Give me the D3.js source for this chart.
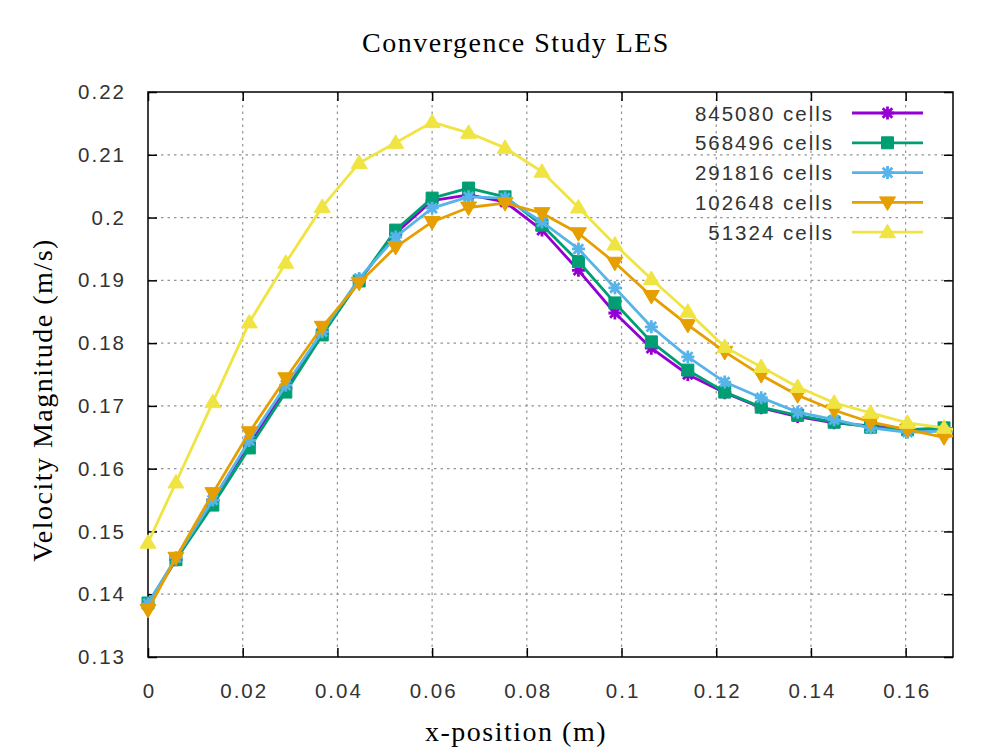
<!DOCTYPE html>
<html>
<head>
<meta charset="utf-8">
<script src="https://cdn.jsdelivr.net/npm/d3@7"></script>
<style>
  body { margin: 0; background: #fff; }
  .tick-label { font-family: "Liberation Sans", Arial, sans-serif; font-size: 20.5px; letter-spacing: 2px; fill: #333; }
  .serif { font-family: "Liberation Serif", "Times New Roman", serif; font-size: 28px; letter-spacing: 1.5px; fill: #000; }
</style>
</head>
<body>
<div id="chart"></div>
<script>
// x positions along the line (m)
var xPos = [0, 0.0059, 0.0137, 0.0214, 0.0291, 0.0368, 0.0446, 0.0523, 0.0600, 0.0677, 0.0754, 0.0832,
            0.0909, 0.0986, 0.1063, 0.1140, 0.1218, 0.1295, 0.1372, 0.1449, 0.1526, 0.1604, 0.1681, 0.1758];

// velocity magnitude (m/s) per mesh
var cells845080 = [0.1383, 0.1455, 0.1550, 0.1640, 0.1728, 0.1815, 0.1900, 0.1975, 0.2027, 0.2036, 0.2025, 0.1980,
                   0.1916, 0.1848, 0.1792, 0.1750, 0.1721, 0.1697, 0.1683, 0.1673, 0.1668, 0.1663, 0.1660, 0.1658];
var cells568496 = [0.1386, 0.1455, 0.1542, 0.1633, 0.1722, 0.1813, 0.1899, 0.1980, 0.2031, 0.2047, 0.2033, 0.1988,
                   0.1930, 0.1864, 0.1802, 0.1757, 0.1722, 0.1698, 0.1685, 0.1674, 0.1666, 0.1662, 0.1665, 0.1660];
var cells291816 = [0.1385, 0.1458, 0.1550, 0.1645, 0.1733, 0.1818, 0.1903, 0.1969, 0.2015, 0.2033, 0.2031, 0.1993,
                   0.1950, 0.1888, 0.1826, 0.1778, 0.1738, 0.1713, 0.1690, 0.1678, 0.1665, 0.1658, 0.1660, 0.1658];
var cells102648 = [0.1375, 0.1458, 0.1561, 0.1658, 0.1744, 0.1826, 0.1896, 0.1953, 0.1993, 0.2016, 0.2023, 0.2007,
                   0.1975, 0.1928, 0.1875, 0.1829, 0.1786, 0.1749, 0.1717, 0.1693, 0.1674, 0.1662, 0.1650, 0.1660];
var cells51324  = [0.1482, 0.1578, 0.1706, 0.1833, 0.1928, 0.2017, 0.2087, 0.2119, 0.2152, 0.2135, 0.2111, 0.2073,
                   0.2016, 0.1957, 0.1902, 0.1850, 0.1794, 0.1762, 0.1730, 0.1705, 0.1689, 0.1673, 0.1665, 0.1655];

var seriesNames = ["845080 cells", "568496 cells", "291816 cells", "102648 cells", "51324 cells"];
var seriesColors = ["#9400d3", "#009e73", "#56b4e9", "#e69f00", "#f0e442"];
var seriesMarkers = ["star", "square", "star", "triDown", "triUp"];
var seriesValues = [cells845080, cells568496, cells291816, cells102648, cells51324];

var xTicks = [0, 0.02, 0.04, 0.06, 0.08, 0.1, 0.12, 0.14, 0.16];
var xTickLabels = ["0", "0.02", "0.04", "0.06", "0.08", "0.1", "0.12", "0.14", "0.16"];
var yTicks = [0.13, 0.14, 0.15, 0.16, 0.17, 0.18, 0.19, 0.2, 0.21, 0.22];
var yTickLabels = ["0.13", "0.14", "0.15", "0.16", "0.17", "0.18", "0.19", "0.2", "0.21", "0.22"];

var svgWidth = 1003, svgHeight = 753;
var margin = { top: 92, right: 50, bottom: 96, left: 148 };
var width = svgWidth - margin.left - margin.right;
var height = svgHeight - margin.top - margin.bottom;

var svg = d3.select("#chart").append("svg")
  .attr("width", svgWidth)
  .attr("height", svgHeight);

var chartGroup = svg.append("g")
  .attr("transform", `translate(${margin.left}, ${margin.top})`);

var x = d3.scaleLinear().domain([0, 0.17]).range([0, width]);
var y = d3.scaleLinear().domain([0.13, 0.22]).range([height, 0]);

// dotted grid
chartGroup.append("g").selectAll("line.gx")
  .data(xTicks.slice(1))
  .enter().append("line")
  .attr("x1", d => x(d)).attr("x2", d => x(d))
  .attr("y1", 0).attr("y2", height)
  .attr("stroke", "#949494").attr("stroke-width", 1.2).attr("stroke-dasharray", "2.5,4");
chartGroup.append("g").selectAll("line.gy")
  .data(yTicks.slice(1, -1))
  .enter().append("line")
  .attr("x1", 0).attr("x2", width)
  .attr("y1", d => y(d)).attr("y2", d => y(d))
  .attr("stroke", "#949494").attr("stroke-width", 1.2).attr("stroke-dasharray", "2.5,4");

// axes: ticks inward, mirrored on all sides
var tickLen = 9;
function styleAxis(g) {
  g.select(".domain").remove();
  g.selectAll(".tick line").attr("stroke", "#000").attr("stroke-width", 1.5);
}
chartGroup.append("g")
  .attr("transform", `translate(0, ${height})`)
  .call(d3.axisBottom(x).tickValues(xTicks).tickSize(-tickLen).tickFormat((d, i) => xTickLabels[i]).tickPadding(tickLen + 17))
  .call(styleAxis)
  .call(g => g.selectAll(".tick text").attr("class", "tick-label").attr("font-size", null).attr("font-family", null).attr("dx", "1px"));
chartGroup.append("g")
  .call(d3.axisTop(x).tickValues(xTicks).tickSize(-tickLen).tickFormat(""))
  .call(styleAxis);
chartGroup.append("g")
  .call(d3.axisLeft(y).tickValues(yTicks).tickSize(-tickLen).tickFormat((d, i) => yTickLabels[i]).tickPadding(tickLen + 21))
  .call(styleAxis)
  .call(g => g.selectAll(".tick text").attr("class", "tick-label").attr("font-size", null).attr("font-family", null).attr("dx", "8px"));
chartGroup.append("g")
  .attr("transform", `translate(${width}, 0)`)
  .call(d3.axisRight(y).tickValues(yTicks).tickSize(-tickLen).tickFormat(""))
  .call(styleAxis);

// border
chartGroup.append("rect")
  .attr("width", width).attr("height", height)
  .attr("fill", "none").attr("stroke", "#000").attr("stroke-width", 1.5);

// clip for the lines
svg.append("defs").append("clipPath").attr("id", "plotClip")
  .append("rect").attr("width", width).attr("height", height);

function markerPath(type) {
  if (type === "star") return "M-6.5,0H6.5M0,-6.5V6.5M-4.8,-4.8L4.8,4.8M-4.8,4.8L4.8,-4.8";
  if (type === "square") return "M-6,-6H6V6H-6Z";
  if (type === "triUp") return "M0,-8L8,5.5L-8,5.5Z";
  return "M0,8L8,-5.5L-8,-5.5Z";
}
function drawMarker(sel, type, color) {
  var filled = type !== "star";
  sel.append("path")
    .attr("d", markerPath(type))
    .attr("fill", filled ? color : "none")
    .attr("stroke", color)
    .attr("stroke-width", filled ? 1 : 2.8)
    .attr("stroke-linejoin", "miter");
}

var line = d3.line().x(d => x(d.x)).y(d => y(d.y));

seriesValues.forEach(function(vals, s) {
  var pts = xPos.map((xv, i) => ({ x: xv, y: vals[i] }));
  var g = chartGroup.append("g");
  g.append("path")
    .datum(pts)
    .attr("clip-path", "url(#plotClip)")
    .attr("fill", "none")
    .attr("stroke", seriesColors[s])
    .attr("stroke-width", 2.8)
    .attr("stroke-linejoin", "round")
    .attr("d", line);
  g.selectAll("g.pt")
    .data(pts.filter(p => p.x <= 0.17))
    .enter().append("g")
    .attr("transform", d => `translate(${x(d.x)}, ${y(d.y)})`)
    .each(function() { drawMarker(d3.select(this), seriesMarkers[s], seriesColors[s]); });
});

// legend
var legend = svg.append("g");
seriesNames.forEach(function(name, s) {
  var ly = 113 + s * 29.8;
  legend.append("text")
    .attr("class", "tick-label")
    .attr("x", 834).attr("y", ly + 7.5)
    .attr("text-anchor", "end")
    .text(name);
  legend.append("line")
    .attr("x1", 852).attr("x2", 923)
    .attr("y1", ly).attr("y2", ly)
    .attr("stroke", seriesColors[s]).attr("stroke-width", 2.8);
  var m = legend.append("g").attr("transform", `translate(887.5, ${ly})`);
  drawMarker(m, seriesMarkers[s], seriesColors[s]);
});

// title and axis labels
svg.append("text").attr("class", "serif")
  .attr("x", 516).attr("y", 52).attr("text-anchor", "middle")
  .text("Convergence Study LES");
svg.append("text").attr("class", "serif")
  .attr("x", 516).attr("y", 741).attr("text-anchor", "middle")
  .text("x-position (m)");
svg.append("text").attr("class", "serif")
  .attr("transform", "translate(52, 400) rotate(-90)")
  .attr("text-anchor", "middle")
  .text("Velocity Magnitude (m/s)");
</script>
</body>
</html>
